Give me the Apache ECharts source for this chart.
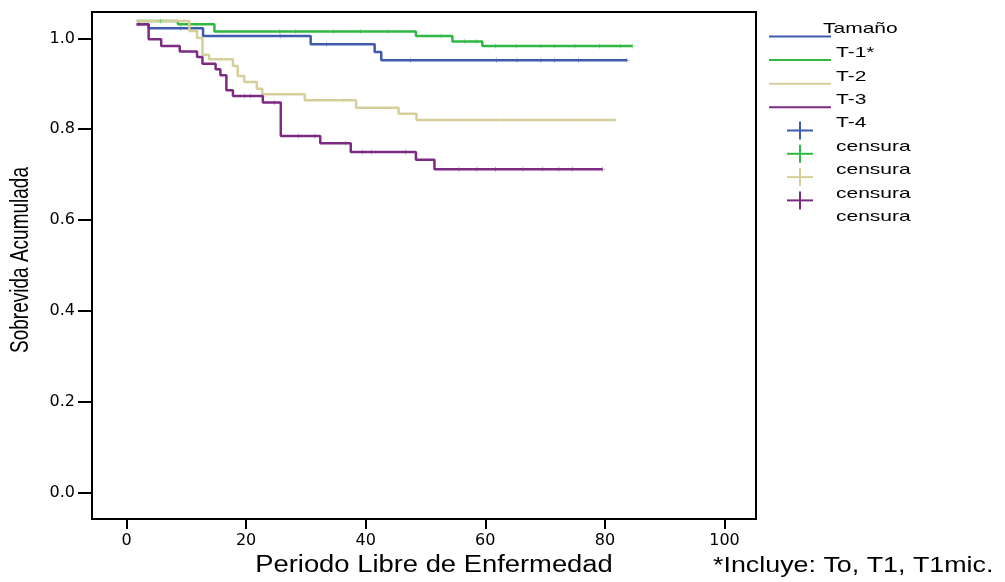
<!DOCTYPE html>
<html>
<head>
<meta charset="utf-8">
<script src="https://cdn.jsdelivr.net/npm/echarts@6/dist/echarts.min.js"></script>
<style>
html,body{margin:0;padding:0;background:#fff;}
#chart{width:1005px;height:582px;}
</style>
</head>
<body>
<div id="chart"></div>
<script>
// curves, in the legend order of the picture
var groupNames = ['T-1*', 'T-2', 'T-3', 'T-4'];
var groupColors = ['#3f5bae', '#2fb844', '#d6cf9b', '#7d2a82'];

// blue
var g1Time = [1.7, 3.7, 12.8, 30.8, 41.5, 42.6, 83.7];
var g1Surv = [1.031, 1.022, 1.005, 0.987, 0.970, 0.952, 0.952];
var g1Cens = [9.1, 25.7, 33.5, 47.5, 61.9, 65.3, 69.3, 71.6, 75.6, 83.7];
// green
var g2Time = [1.7, 8.6, 14.7, 48.4, 54.5, 59.5, 84.6];
var g2Surv = [1.038, 1.031, 1.015, 1.005, 0.993, 0.983, 0.983];
var g2Cens = [5.7, 11.7, 25.6, 28.3, 34.6, 39.1, 43.7, 52.6, 56.5, 58.5, 61.7, 65.2, 69.3, 71.6, 75.0, 79.1, 82.6, 84.6];
// khaki
var g3Time = [1.7, 10.5, 11.8, 12.7, 13.8, 17.8, 18.6, 19.7, 21.8, 22.7, 29.8, 38.4, 45.5, 48.5, 81.8];
var g3Surv = [1.038, 1.016, 1.001, 0.964, 0.954, 0.939, 0.917, 0.904, 0.889, 0.877, 0.864, 0.847, 0.834, 0.820, 0.820];
var g3Cens = [2.7, 6.6, 9.7, 15.7, 36.2, 53.2, 58.2, 61.9, 65.8, 68.5, 71.6, 76.6, 81.8];
// purple
var g4Time = [1.7, 3.7, 5.8, 8.9, 11.8, 12.7, 14.9, 15.7, 16.7, 17.8, 22.8, 25.8, 32.4, 37.5, 48.4, 51.5, 79.6];
var g4Surv = [1.031, 0.998, 0.983, 0.971, 0.959, 0.944, 0.932, 0.919, 0.886, 0.873, 0.859, 0.785, 0.769, 0.750, 0.733, 0.712, 0.712];
var g4Cens = [2.0, 19.7, 20.7, 24.7, 28.8, 31.5, 36.6, 39.5, 41.0, 46.7, 55.6, 58.6, 61.7, 66.3, 69.6, 72.3, 74.6, 79.6];

var xTicks = [0, 20, 40, 60, 80, 100];
var yTicks = [0, 0.2, 0.4, 0.6, 0.8, 1.0];
var legendLabels = ['T-1*', 'T-2', 'T-3', 'T-4', 'censura', 'censura', 'censura', 'censura'];

var times = [g1Time, g2Time, g3Time, g4Time];
var survs = [g1Surv, g2Surv, g3Surv, g4Surv];
var cens = [g1Cens, g2Cens, g3Cens, g4Cens];

function survAt(t, tm, sv) {
    var s = sv[0];
    for (var i = 0; i < tm.length; i++) {
        if (tm[i] <= t) s = sv[i];
    }
    return s;
}

var font = 'Liberation Sans, Arial, sans-serif';
var plus = 'path://M4.5,0h1v4.5h4.5v1h-4.5v4.5h-1v-4.5h-4.5v-1h4.5z';

var series = [];
for (var g = 0; g < 4; g++) {
    var lineData = [];
    for (var i = 0; i < times[g].length; i++) lineData.push([times[g][i], survs[g][i]]);
    series.push({
        name: groupNames[g],
        type: 'line',
        step: 'end',
        symbol: 'none',
        lineStyle: {color: groupColors[g], width: 2.5},
        data: lineData,
        z: 2 + g
    });
}
for (var g = 0; g < 4; g++) {
    var cData = [];
    for (var i = 0; i < cens[g].length; i++) cData.push([cens[g][i], survAt(cens[g][i], times[g], survs[g])]);
    series.push({
        name: 'censura',
        type: 'scatter',
        symbol: plus,
        symbolSize: 5,
        itemStyle: {color: groupColors[g]},
        data: cData,
        z: 6 + g
    });
}

var graphic = [];
// axis titles and note
graphic.push({
    type: 'text', x: 434, y: 566, scaleX: 1.19,
    style: {text: 'Periodo Libre de Enfermedad', font: '23px ' + font, fill: '#000', textAlign: 'center', textVerticalAlign: 'middle'}
});
graphic.push({
    type: 'text', x: 713, y: 566, scaleX: 1.22,
    style: {text: '*Incluye: To, T1, T1mic.', font: '22px ' + font, fill: '#000', textAlign: 'left', textVerticalAlign: 'middle'}
});
graphic.push({
    type: 'text', x: 21, y: 260, rotation: Math.PI / 2, scaleY: 1.35,
    style: {text: 'Sobrevida Acumulada', font: '19px ' + font, fill: '#000', textAlign: 'center', textVerticalAlign: 'middle'}
});
// legend
graphic.push({
    type: 'text', x: 823, y: 29, scaleX: 1.4,
    style: {text: 'Tamaño', font: '15px ' + font, fill: '#000', textAlign: 'left', textVerticalAlign: 'middle'}
});
for (var j = 0; j < legendLabels.length; j++) {
    graphic.push({
        type: 'text', x: 836, y: 53 + 23.4 * j, scaleX: 1.4,
        style: {text: legendLabels[j], font: '15px ' + font, fill: '#000', textAlign: 'left', textVerticalAlign: 'middle'}
    });
}
for (var g = 0; g < 4; g++) {
    var ly = 36.5 + 23.6 * g;
    graphic.push({
        type: 'line', shape: {x1: 769, y1: ly, x2: 831, y2: ly},
        style: {stroke: groupColors[g], lineWidth: 2}
    });
    var cy = 130.5 + 23.3 * g;
    graphic.push({
        type: 'line', shape: {x1: 787, y1: cy, x2: 813, y2: cy},
        style: {stroke: groupColors[g], lineWidth: 2}
    });
    graphic.push({
        type: 'line', shape: {x1: 800, y1: cy - 9, x2: 800, y2: cy + 9},
        style: {stroke: groupColors[g], lineWidth: 2}
    });
}

var chart = echarts.init(document.getElementById('chart'));
chart.setOption({
    backgroundColor: '#fff',
    animation: false,
    grid: {
        left: 92, top: 12, right: 249, bottom: 63,
        show: true, borderColor: '#000', borderWidth: 2
    },
    xAxis: {
        type: 'value',
        min: -5.77,
        max: 105.27,
        axisLine: {show: true, onZero: false, lineStyle: {color: '#000', width: 2}},
        axisTick: {show: true, length: 10, customValues: xTicks, lineStyle: {color: '#000', width: 2}},
        axisLabel: {customValues: xTicks, margin: 14, color: '#000', fontSize: 16, fontFamily: 'DejaVu Sans'},
        splitLine: {show: false}
    },
    yAxis: {
        type: 'value',
        min: -0.058,
        max: 1.058,
        axisLine: {show: true, onZero: false, lineStyle: {color: '#000', width: 2}},
        axisTick: {show: true, length: 14, customValues: yTicks, lineStyle: {color: '#000', width: 2}},
        axisLabel: {
            customValues: yTicks, margin: 17, color: '#000', fontSize: 16, fontFamily: 'DejaVu Sans',
            formatter: function (v) { return v.toFixed(1); }
        },
        splitLine: {show: false}
    },
    graphic: graphic,
    series: series
});
</script>
</body>
</html>
